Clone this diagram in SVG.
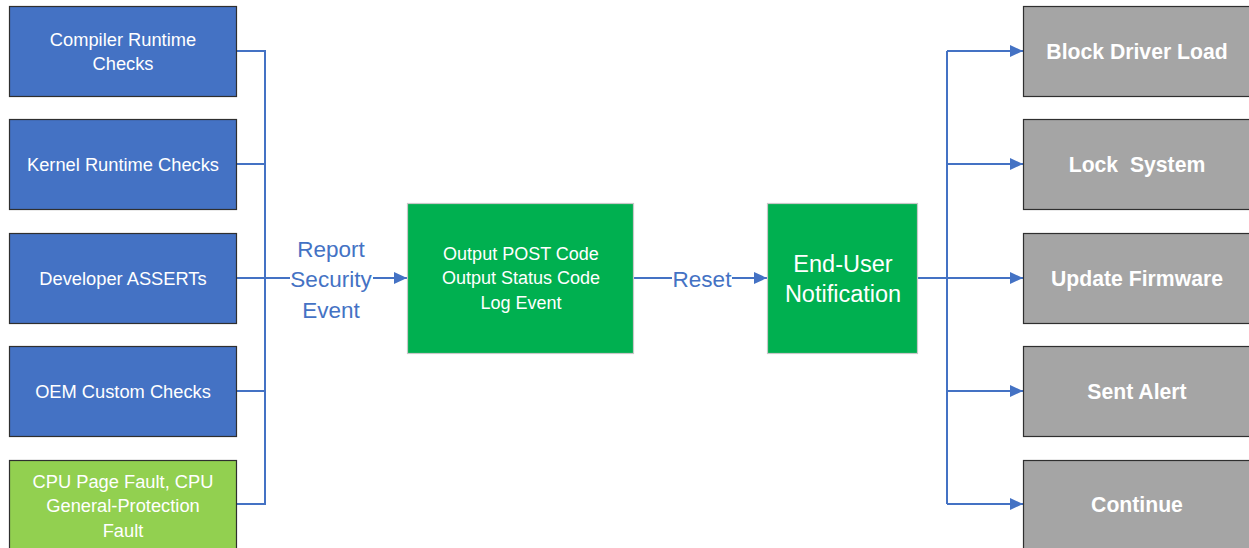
<svg xmlns="http://www.w3.org/2000/svg" width="1249" height="548" viewBox="0 0 1249 548">
<defs>
<style>
.lb{fill:#4472C4;stroke:#2F2F2F;stroke-width:1.2}
.lg{fill:#92D050;stroke:#2F2F2F;stroke-width:1.2}
.gb{fill:#00B050;stroke:#C8C8C8;stroke-width:1.2}
.rb{fill:#A5A5A5;stroke:#2F2F2F;stroke-width:1.2}
.t{font-family:"Liberation Sans",Arial,sans-serif;fill:#FFFFFF;text-anchor:middle;dominant-baseline:central}
.s{font-size:18.3px}
.m{font-size:18px}
.b{font-size:21.2px;font-weight:bold}
.e{font-size:23.5px}
.c{fill:none;stroke:#4472C4;stroke-width:2}
.lab{font-family:"Liberation Sans",Arial,sans-serif;fill:#4472C4;text-anchor:middle;dominant-baseline:central;font-size:22.5px}
</style>
<marker id="ah" markerWidth="13" markerHeight="12" refX="13" refY="6" orient="auto" markerUnits="userSpaceOnUse" viewBox="0 0 13 12">
<path d="M0,0 L13,6 L0,12 z" fill="#4472C4"/>
</marker>
</defs>
<rect width="1249" height="548" fill="#FFFFFF"/>
<g id="connectors">
<path class="c" d="M237,51 H265 V504 H237"/>
<path class="c" d="M237,164 H265"/>
<path class="c" d="M237,278 H265"/>
<path class="c" d="M237,391 H265"/>
<path class="c" d="M265,278 H407" marker-end="url(#ah)"/>
<rect x="290" y="236" width="83" height="88" fill="#FFFFFF"/>
<text class="lab" x="331" y="249">Report</text>
<text class="lab" x="331" y="279">Security</text>
<text class="lab" x="331" y="310">Event</text>
<path class="c" d="M634,278 H767" marker-end="url(#ah)"/>
<rect x="672" y="266" width="60" height="26" fill="#FFFFFF"/>
<text class="lab" x="702" y="279">Reset</text>
<path class="c" d="M918,278 H947"/>
<path class="c" d="M947,51 V504"/>
<path class="c" d="M947,51 H1023" marker-end="url(#ah)"/>
<path class="c" d="M947,164 H1023" marker-end="url(#ah)"/>
<path class="c" d="M947,278 H1023" marker-end="url(#ah)"/>
<path class="c" d="M947,391 H1023" marker-end="url(#ah)"/>
<path class="c" d="M947,504 H1023" marker-end="url(#ah)"/>
</g>
<g id="compiler-runtime-checks">
<rect class="lb" x="9.5" y="6.5" width="227" height="90"/>
<text class="t s" x="123" y="39">Compiler Runtime</text>
<text class="t s" x="123" y="63">Checks</text>
</g>
<g id="kernel-runtime-checks">
<rect class="lb" x="9.5" y="119.5" width="227" height="90"/>
<text class="t s" x="123" y="164">Kernel Runtime Checks</text>
</g>
<g id="developer-asserts">
<rect class="lb" x="9.5" y="233.5" width="227" height="90"/>
<text class="t s" x="123" y="278">Developer ASSERTs</text>
</g>
<g id="oem-custom-checks">
<rect class="lb" x="9.5" y="346.5" width="227" height="90"/>
<text class="t s" x="123" y="391">OEM Custom Checks</text>
</g>
<g id="cpu-faults">
<rect class="lg" x="9.5" y="460.5" width="227" height="95"/>
<text class="t s" x="123" y="481">CPU Page Fault, CPU</text>
<text class="t s" x="123" y="505">General-Protection</text>
<text class="t s" x="123" y="530">Fault</text>
</g>
<g id="output-codes">
<rect class="gb" x="407.5" y="203.5" width="226" height="150"/>
<text class="t m" x="521" y="254">Output POST Code</text>
<text class="t m" x="521" y="278">Output Status Code</text>
<text class="t m" x="521" y="303">Log Event</text>
</g>
<g id="end-user-notification">
<rect class="gb" x="767.5" y="203.5" width="150" height="150"/>
<text class="t e" x="843" y="264">End-User</text>
<text class="t e" x="843" y="294">Notification</text>
</g>
<g id="block-driver-load">
<rect class="rb" x="1023.5" y="6.5" width="235" height="90"/>
<text class="t b" x="1137" y="51">Block Driver Load</text>
</g>
<g id="lock-system">
<rect class="rb" x="1023.5" y="119.5" width="235" height="90"/>
<text class="t b" x="1137" y="164" xml:space="preserve">Lock  System</text>
</g>
<g id="update-firmware">
<rect class="rb" x="1023.5" y="233.5" width="235" height="90"/>
<text class="t b" x="1137" y="278">Update Firmware</text>
</g>
<g id="sent-alert">
<rect class="rb" x="1023.5" y="346.5" width="235" height="90"/>
<text class="t b" x="1137" y="391">Sent Alert</text>
</g>
<g id="continue">
<rect class="rb" x="1023.5" y="460.5" width="235" height="95"/>
<text class="t b" x="1137" y="504">Continue</text>
</g>
</svg>
